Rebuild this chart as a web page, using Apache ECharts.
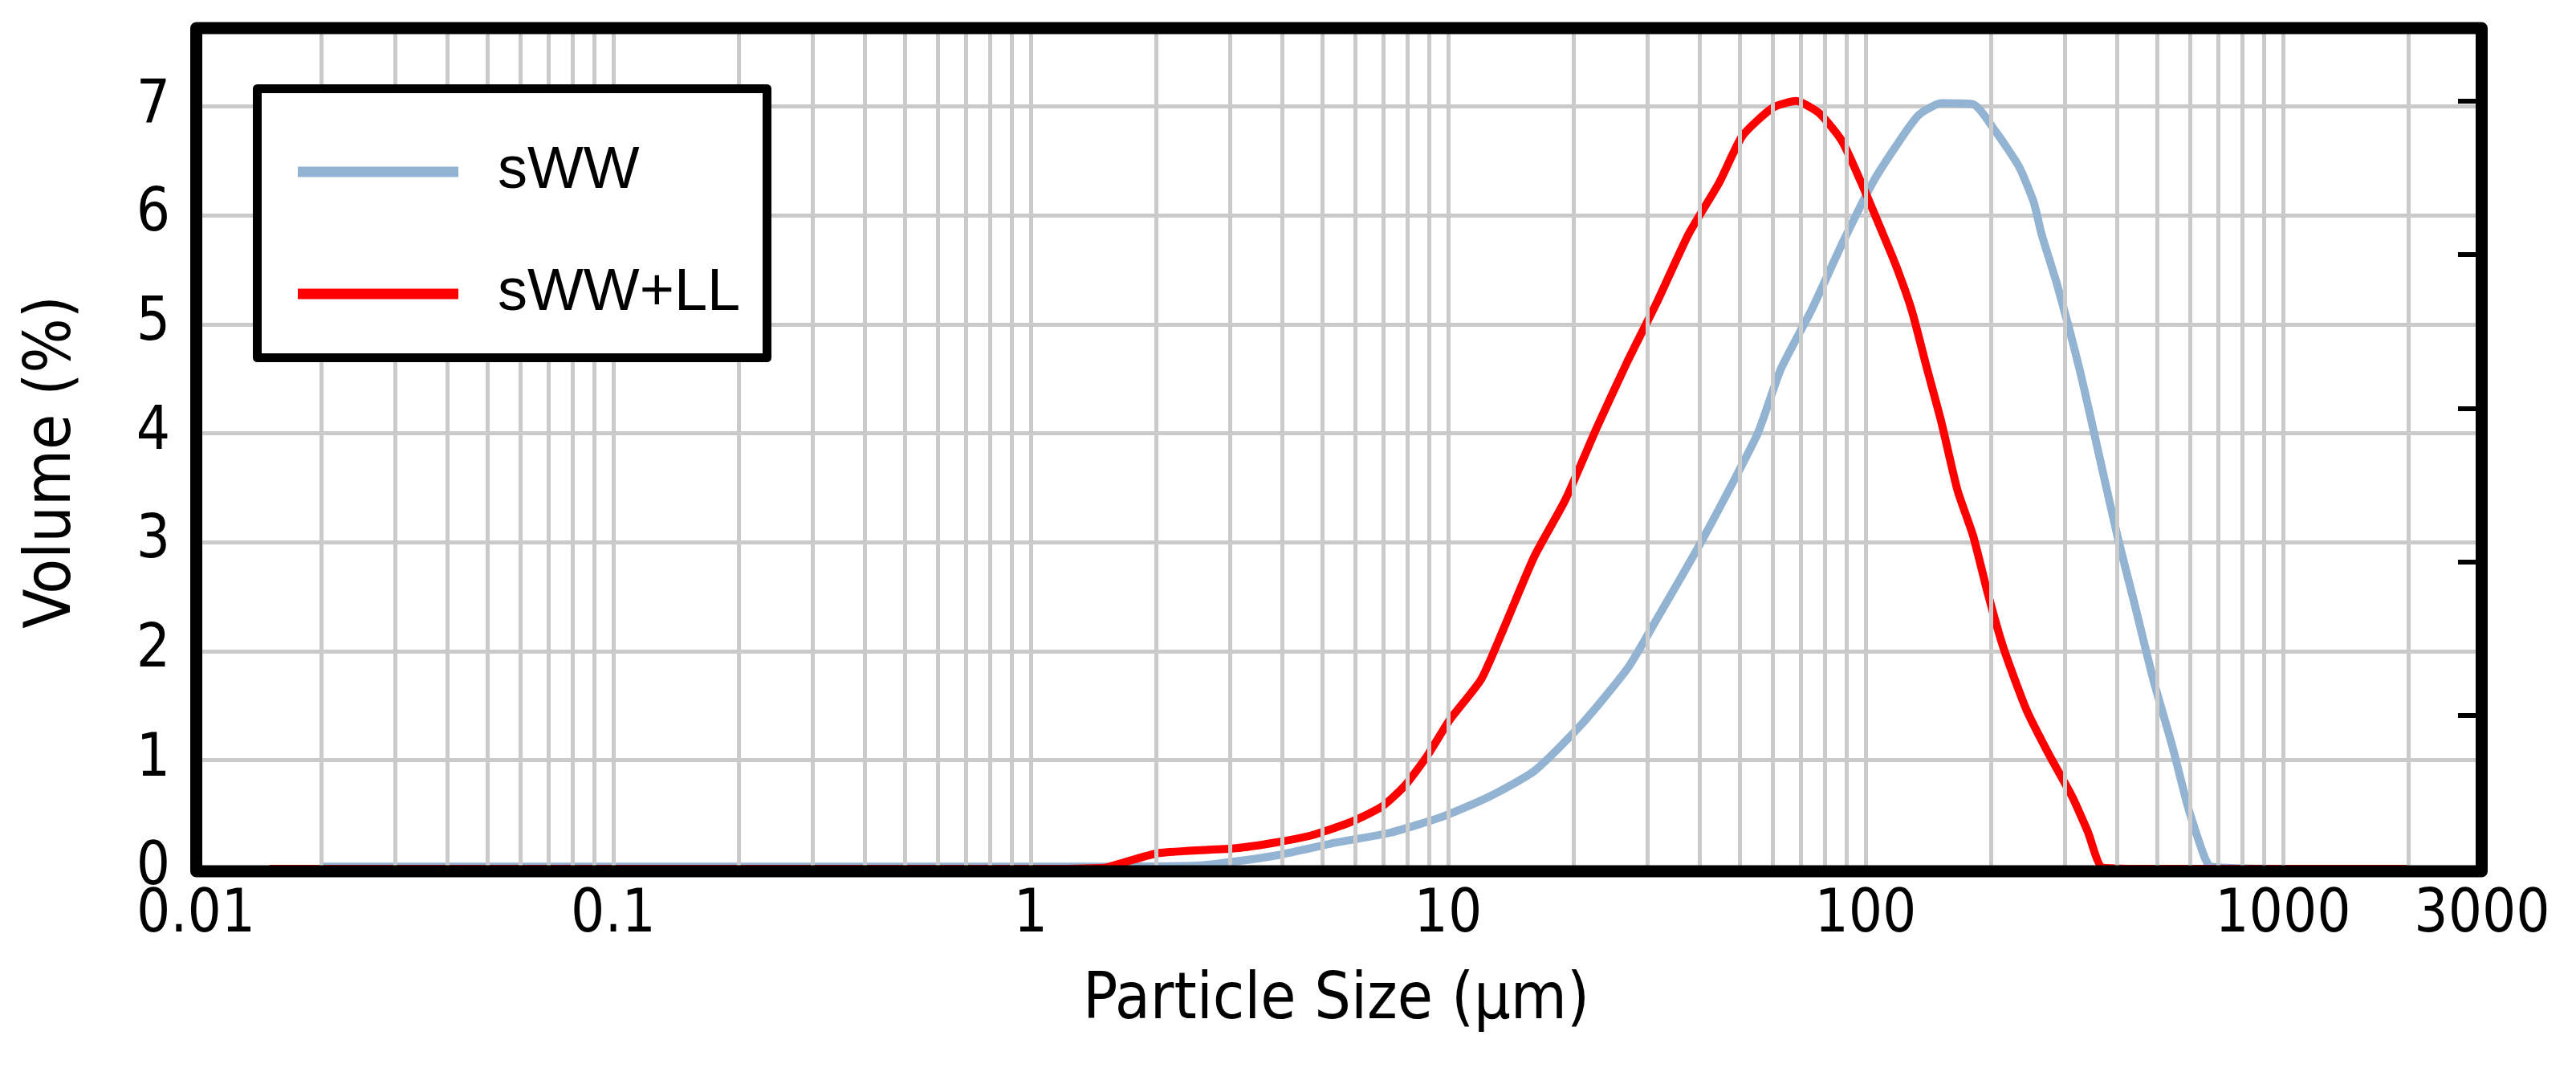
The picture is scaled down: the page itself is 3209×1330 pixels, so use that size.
<!DOCTYPE html>
<html>
<head>
<meta charset="utf-8">
<script src="https://cdn.jsdelivr.net/npm/echarts@6/dist/echarts.min.js"></script>
<style>
html,body{margin:0;padding:0;background:#fff;}
#c{width:3209px;height:1330px;}
</style>
</head>
<body>
<div id="c"></div>
<script>
// Particle size (µm) and volume (%)
const seriesNames = ['sWW', 'sWW+LL'];
const xTickLabels = ['0.01', '0.1', '1', '10', '100', '1000', '3000'];
const yTickLabels = [0, 1, 2, 3, 4, 5, 6, 7];

const sWWSize = [0.02, 0.1, 1, 2.5, 3.83, 5.37, 7.23, 9.71, 12.5, 16.1, 20.8, 26.9, 31.8, 39.3, 46.5, 55.2, 62.7, 74.2, 87.9, 104, 118, 134, 152, 181, 205, 233, 253, 264, 288, 327, 371, 404, 440, 489, 543, 592, 643, 671, 1000, 2000];
const sWWVol  = [0.02, 0.02, 0.02, 0.03, 0.12, 0.24, 0.33, 0.48, 0.66, 0.90, 1.32, 1.84, 2.31, 2.92, 3.44, 4.00, 4.59, 5.13, 5.74, 6.30, 6.63, 6.92, 7.03, 7.02, 6.77, 6.45, 6.12, 5.83, 5.36, 4.56, 3.63, 3.01, 2.45, 1.74, 1.13, 0.57, 0.15, 0.02, 0, 0];

const sWWLLSize = [0.015, 0.1, 1, 1.5, 1.64, 2.03, 3.1, 3.83, 4.73, 5.85, 6.93, 7.86, 8.92, 10.1, 12.0, 13.6, 16.1, 19.1, 22.7, 26.9, 31.8, 37.7, 44.6, 50.7, 60.0, 68.2, 77.4, 87.9, 97.7, 108.7, 118, 129, 140, 152, 166, 181, 196, 214, 243, 276, 313, 341, 371, 500, 1000, 2000];
const sWWLLVol  = [0, 0, 0, 0.01, 0.05, 0.146, 0.19, 0.24, 0.31, 0.43, 0.57, 0.76, 1.04, 1.37, 1.74, 2.21, 2.87, 3.39, 4.05, 4.66, 5.22, 5.83, 6.30, 6.73, 6.99, 7.05, 6.94, 6.68, 6.30, 5.88, 5.55, 5.13, 4.61, 4.10, 3.48, 3.06, 2.54, 2.03, 1.46, 1.04, 0.66, 0.34, 0.01, 0, 0, 0];

// log-grid positions: 1..9 x each decade, up to 2000
const gridLines = [];
for (let d = -2; d <= 3; d++) {
  for (let k = 1; k <= 9; k++) {
    const v = +(k * Math.pow(10, d)).toPrecision(6);
    if (v > 0.01 && v < 3000) gridLines.push(v);
  }
}

const zip = (xs, ys) => xs.map((x, i) => [x, ys[i]]);
const tickFont = 'DejaVu Sans Condensed';
const gridColor = '#cacaca';

const chart = echarts.init(document.getElementById('c'), null, {renderer: 'canvas'});
chart.setOption({
  animation: false,
  backgroundColor: '#ffffff',
  grid: {left: 244, right: 117, top: 35, bottom: 248, containLabel: false, outerBoundsMode: 'none'},
  legend: {
    orient: 'vertical',
    left: 371,
    top: 160,
    padding: 0,
    itemGap: 44,
    itemWidth: 200,
    itemHeight: 13,
    icon: 'rect',
    z: 60,
    data: seriesNames,
    textStyle: {fontFamily: 'Liberation Sans', fontSize: 74, lineHeight: 74, color: '#000', padding: [0, 0, 34, 44]}
  },
  xAxis: {
    type: 'log',
    logBase: 10,
    min: 0.01,
    max: 3000,
    name: 'Particle Size (µm)',
    nameLocation: 'middle',
    nameGap: 125,
    nameTextStyle: {fontFamily: tickFont, fontSize: 80, color: '#000', padding: [0, 7, 0, 0]},
    axisLine: {show: false},
    axisTick: {show: false},
    splitLine: {show: false},
    axisLabel: {
      fontFamily: tickFont, fontSize: 74, color: '#000', margin: 22,
      formatter: function (v) {
        const s = String(+(+v).toPrecision(6));
        return xTickLabels.indexOf(s) >= 0 ? s : '';
      }
    }
  },
  yAxis: [{
    type: 'value',
    min: 0,
    max: 7.72,
    interval: 1,
    name: 'Volume (%)',
    nameLocation: 'middle',
    nameGap: 138,
    nameTextStyle: {fontFamily: tickFont, fontSize: 80, color: '#000', padding: [0, 34, 0, 0]},
    axisLine: {show: false},
    axisTick: {show: false},
    splitLine: {show: true, lineStyle: {color: gridColor, width: 5}},
    axisLabel: {
      fontFamily: tickFont, fontSize: 74, color: '#000', margin: 32,
      formatter: function (v) {
        const r = Math.round(v);
        return (Math.abs(v - r) < 1e-6 && yTickLabels.indexOf(r) >= 0) ? String(r) : '';
      }
    }
  }, {
    type: 'value',
    position: 'right',
    min: 0,
    max: 7.72,
    interval: 1.41,
    axisLine: {show: false},
    axisLabel: {show: false},
    splitLine: {show: false},
    axisTick: {show: true, inside: true, length: 30, lineStyle: {color: '#000', width: 6}}
  }],
  series: [
    {
      name: 'grid',
      type: 'line',
      data: [],
      silent: true,
      z: 1,
      markLine: {
        silent: true,
        symbol: 'none',
        label: {show: false},
        animation: false,
        lineStyle: {color: gridColor, width: 5, type: 'solid'},
        emphasis: {disabled: true},
        data: gridLines.map(v => ({xAxis: v}))
      }
    },
    {
      name: seriesNames[0],
      type: 'line',
      data: zip(sWWSize, sWWVol),
      showSymbol: false,
      symbol: 'none',
      smooth: 0.2,
      z: 3,
      color: '#92b3d1',
      lineStyle: {color: '#92b3d1', width: 10}
    },
    {
      name: seriesNames[1],
      type: 'line',
      data: zip(sWWLLSize, sWWLLVol),
      showSymbol: false,
      symbol: 'none',
      smooth: 0.2,
      z: 4,
      color: '#ff0000',
      lineStyle: {color: '#ff0000', width: 10}
    }
  ],
  graphic: [
    {
      type: 'rect', z: 50, silent: true,
      shape: {x: 320.5, y: 110.5, width: 635, height: 335},
      style: {fill: '#ffffff', stroke: '#000', lineWidth: 11, lineJoin: 'round'}
    },
    {
      type: 'rect', z: 100, silent: true,
      shape: {x: 244.5, y: 35, width: 2847, height: 1050},
      style: {fill: 'none', stroke: '#000', lineWidth: 15, lineJoin: 'round'}
    }
  ]
});
</script>
</body>
</html>
